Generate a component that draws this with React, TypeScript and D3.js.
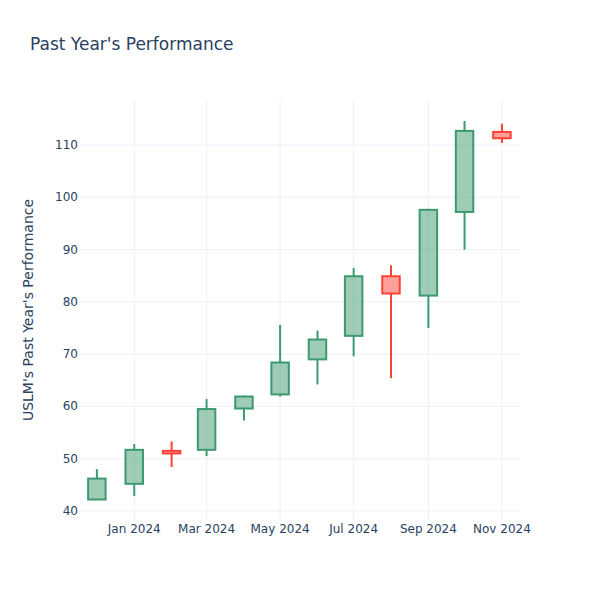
import React from "react";
import * as d3 from "d3";

const dates = ["2023-12-01","2024-01-01","2024-02-01","2024-03-01","2024-04-01","2024-05-01","2024-06-01","2024-07-01","2024-08-01","2024-09-01","2024-10-01","2024-11-01"];
const opens = [42.2, 45.2, 51.5, 51.7, 59.6, 62.3, 69.0, 73.5, 84.9, 81.2, 97.2, 112.5];
const highs = [48.0, 52.8, 53.3, 61.4, 62.1, 75.6, 74.5, 86.5, 87.0, 97.8, 114.6, 114.1];
const lows = [42.2, 42.9, 48.4, 50.5, 57.3, 61.9, 64.2, 69.6, 65.4, 75.0, 90.0, 110.4];
const closes = [46.2, 51.7, 51.0, 59.5, 61.9, 68.4, 72.8, 84.9, 81.6, 97.6, 112.7, 111.3];
const yTicks = [40, 50, 60, 70, 80, 90, 100, 110];
const xTickDates = ["2024-01-01","2024-03-01","2024-05-01","2024-07-01","2024-09-01","2024-11-01"];

const parse = d3.utcParse("%Y-%m-%d");
const fmt = d3.utcFormat("%b %Y");

export default function App() {
  const W = 600, H = 600;
  const L = 80, R = 520, T = 100, B = 520;
  const x = d3.scaleUtc().domain([parse("2023-11-17")!, parse("2024-11-16")!]).range([L, R]);
  const y = d3.scaleLinear().domain([38.28, 118.61]).range([B, T]);
  const halfW = (x(parse("2024-03-01")!) - x(parse("2024-02-01")!)) * 0.25;
  const font = "'DejaVu Sans', Verdana, sans-serif";
  const textColor = "#2a3f5f";
  const grid = "#EBF0F8";
  return (
    <svg width={W} height={H} style={{ position: "absolute", left: 0, top: 0, background: "#fff" }} fontFamily={font}>
      <rect x={0} y={0} width={W} height={H} fill="#fff" />
      {yTicks.map((t) => (
        <line key={"gy" + t} x1={L} x2={R} y1={y(t)} y2={y(t)} stroke={grid} strokeWidth={1} />
      ))}
      {xTickDates.map((d) => {
        const xx = x(parse(d)!);
        return <line key={"gx" + d} x1={xx} x2={xx} y1={T} y2={B} stroke={grid} strokeWidth={1} />;
      })}
      {dates.map((d, i) => {
        const cx = x(parse(d)!);
        const inc = closes[i] >= opens[i];
        const col = inc ? "#3D9970" : "#FF4136";
        const fill = inc ? "rgba(61,153,112,0.5)" : "rgba(255,65,54,0.5)";
        const top = y(Math.max(opens[i], closes[i]));
        const bot = y(Math.min(opens[i], closes[i]));
        return (
          <g key={d}>
            <line x1={cx} x2={cx} y1={y(highs[i])} y2={top} stroke={col} strokeWidth={2} />
            <line x1={cx} x2={cx} y1={bot} y2={y(lows[i])} stroke={col} strokeWidth={2} />
            <rect x={cx - halfW} y={top} width={halfW * 2} height={Math.max(bot - top, 0.5)} fill={fill} stroke={col} strokeWidth={2} />
          </g>
        );
      })}
      {yTicks.map((t) => (
        <text key={"ty" + t} x={78} y={y(t) + 4} textAnchor="end" fontSize={12} fill={textColor}>{t}</text>
      ))}
      {xTickDates.map((d) => (
        <text key={"tx" + d} x={x(parse(d)!)} y={533} textAnchor="middle" fontSize={12} fill={textColor}>{fmt(parse(d)!)}</text>
      ))}
      <text x={30} y={50} fontSize={17} fill={textColor}>Past Year's Performance</text>
      <text transform={`translate(33,${(T + B) / 2}) rotate(-90)`} textAnchor="middle" fontSize={14} fill={textColor}>USLM's Past Year's Performance</text>
    </svg>
  );
}
